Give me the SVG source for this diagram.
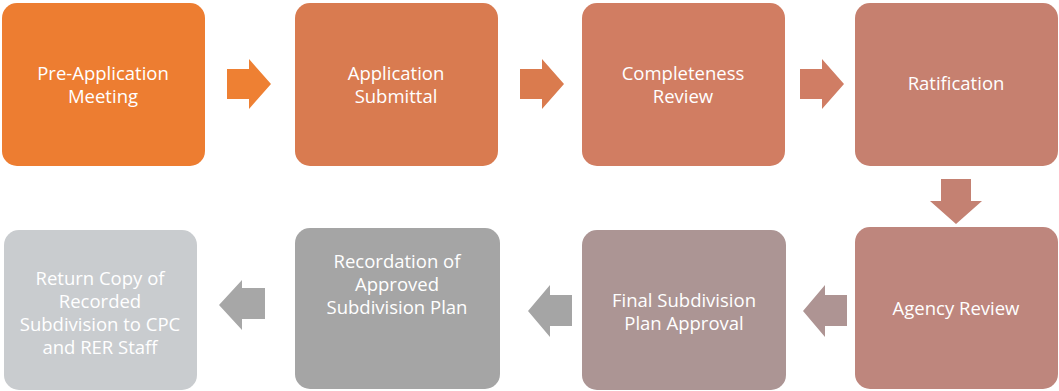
<svg xmlns="http://www.w3.org/2000/svg" width="1059" height="391" viewBox="0 0 1059 391">
  <style>
    .box { stroke: none; }
    .lbl { font-family: "Open Sans", "Liberation Sans", sans-serif; font-size: 18.5px; fill: #FFFFFF; text-anchor: middle; }
  </style>
  <rect width="1059" height="391" fill="#FFFFFF"/>

  <g id="connectors">
    <!-- top row, pointing right -->
    <polygon points="227,69 249,69 249,59 271,84 249,109 249,99 227,99" fill="#EE8033"/>
    <polygon points="520,69 542,69 542,59 564,84 542,109 542,99 520,99" fill="#DA7B4E"/>
    <polygon points="800,69 822,69 822,59 844,84 822,109 822,99 800,99" fill="#D07D64"/>
    <!-- down to second row -->
    <polygon points="941,179 971,179 971,201 982,201 956,224 930,201 941,201" fill="#C48172"/>
    <!-- bottom row, pointing left -->
    <polygon points="847,295 847,326 825,326 825,337 803,311 825,285 825,295" fill="#AE9493"/>
    <polygon points="572,295 572,326 550,326 550,337 528,311 550,285 550,295" fill="#A5A5A5"/>
    <polygon points="265,288 265,319 242,319 242,330 219,305 242,280 242,288" fill="#A7A7A7"/>
  </g>

  <g id="pre-application">
    <rect class="box" x="2" y="3" width="203" height="163" rx="15" fill="#ED7D31"/>
    <text class="lbl" x="103" y="80"><tspan x="103">Pre-Application</tspan><tspan x="103" dy="23">Meeting</tspan></text>
  </g>
  <g id="application-submittal">
    <rect class="box" x="295" y="3" width="203" height="163" rx="15" fill="#D97B50"/>
    <text class="lbl" x="396" y="80"><tspan x="396">Application</tspan><tspan x="396" dy="23">Submittal</tspan></text>
  </g>
  <g id="completeness-review">
    <rect class="box" x="582" y="3" width="203" height="163" rx="15" fill="#D17D62"/>
    <text class="lbl" x="683" y="80"><tspan x="683">Completeness</tspan><tspan x="683" dy="23">Review</tspan></text>
  </g>
  <g id="ratification">
    <rect class="box" x="855" y="3" width="203" height="163" rx="15" fill="#C6806F"/>
    <text class="lbl" x="956" y="90">Ratification</text>
  </g>
  <g id="agency-review">
    <rect class="box" x="855" y="227" width="203" height="162" rx="15" fill="#BE867D"/>
    <text class="lbl" x="956" y="315">Agency Review</text>
  </g>
  <g id="final-subdivision-plan-approval">
    <rect class="box" x="582" y="230" width="204" height="160" rx="15" fill="#AC9594"/>
    <text class="lbl" x="684" y="307"><tspan x="684">Final Subdivision</tspan><tspan x="684" dy="23">Plan Approval</tspan></text>
  </g>
  <g id="recordation">
    <rect class="box" x="295" y="228" width="205" height="161" rx="15" fill="#A5A5A5"/>
    <text class="lbl" x="397" y="268"><tspan x="397">Recordation of</tspan><tspan x="397" dy="23">Approved</tspan><tspan x="397" dy="23">Subdivision Plan</tspan></text>
  </g>
  <g id="return-copy">
    <rect class="box" x="4" y="230" width="193" height="160" rx="15" fill="#C9CCCF"/>
    <text class="lbl" x="100" y="285"><tspan x="100">Return Copy of</tspan><tspan x="100" dy="23">Recorded</tspan><tspan x="100" dy="23">Subdivision to CPC</tspan><tspan x="100" dy="23">and RER Staff</tspan></text>
  </g>
</svg>
